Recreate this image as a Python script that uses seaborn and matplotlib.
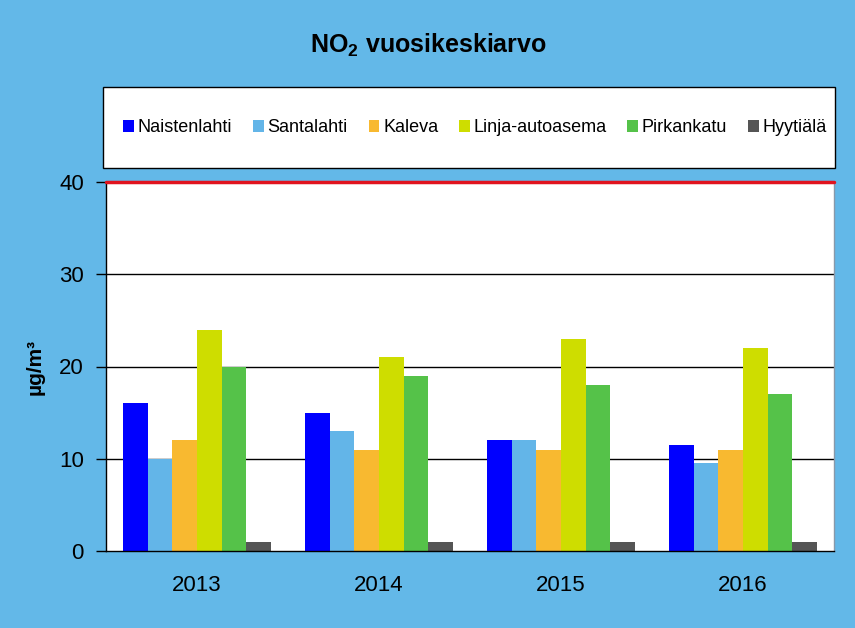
import matplotlib
matplotlib.use("Agg")
import matplotlib.pyplot as plt
import seaborn as sns
import pandas as pd
from matplotlib.patches import Rectangle, Patch

years = ["2013", "2014", "2015", "2016"]
stations = ["Naistenlahti", "Santalahti", "Kaleva", "Linja-autoasema", "Pirkankatu", "Hyytiälä"]
naistenlahti = [16, 15, 12, 11.5]
santalahti = [10, 13, 12, 9.5]
kaleva = [12, 11, 11, 11]
linja = [24, 21, 23, 22]
pirkankatu = [20, 19, 18, 17]
hyytiala = [1, 1, 1, 1]
limit_value = 40
colors = ["#0000FF", "#63B5E8", "#F8B930", "#CEDD00", "#55C249", "#555555"]

series = [naistenlahti, santalahti, kaleva, linja, pirkankatu, hyytiala]
rows = []
for s, vals in zip(stations, series):
    for y, v in zip(years, vals):
        rows.append({"year": y, "station": s, "value": v})
df = pd.DataFrame(rows)

bg = "#63B8E8"
sns.set_theme(style="white")
plt.rcParams['font.family'] = ['Liberation Sans', 'DejaVu Sans']
plt.rcParams['mathtext.fontset'] = 'custom'
plt.rcParams['mathtext.rm'] = 'Liberation Sans'
plt.rcParams['mathtext.bf'] = 'Liberation Sans:bold'
for k in ['text.color', 'xtick.color', 'ytick.color', 'axes.labelcolor']:
    plt.rcParams[k] = 'black'

fig = plt.figure(figsize=(8.55, 6.28), dpi=100, facecolor=bg)
ax = fig.add_axes([106/855, 1-551/628, (834-106)/855, (551-182)/628])
ax.set_facecolor("white")

sns.barplot(data=df, x="year", y="value", hue="station", hue_order=stations,
            order=years, palette=colors, width=0.81, saturation=1, ax=ax,
            legend=False, linewidth=0, errorbar=None)

ax.set_ylim(0, 40)
ax.set_xlim(-0.5, 3.5)
ax.set_yticks([0, 10, 20, 30, 40])
ax.set_yticklabels(["0", "10", "20", "30", "40"], fontsize=16)
for v in [10, 20, 30]:
    ax.axhline(v, color="black", lw=1, zorder=0.5)
ax.axhline(limit_value, color="#E0141E", lw=2.5, zorder=5, clip_on=False)

ax.set_xticks([0, 1, 2, 3])
ax.set_xticklabels(years, fontsize=16)
ax.set_xticks([-0.5, 0.5, 1.5, 2.5, 3.5], minor=True)
ax.tick_params(axis="x", which="major", length=0, pad=17)
ax.tick_params(axis="x", which="minor", length=6, width=1, color="black", direction="out")
ax.tick_params(axis="y", which="major", length=7, width=1, color="black", direction="out", pad=9, left=True)
ax.set_xlabel("")
ax.set_ylabel("µg/m³", fontsize=15, fontweight="bold", labelpad=10)

for side in ["left", "bottom"]:
    ax.spines[side].set_color("black")
    ax.spines[side].set_linewidth(1)
ax.spines["top"].set_visible(False)
ax.spines["right"].set_color("#8899AA")
ax.spines["right"].set_linewidth(1)

fig.text(428/855, 1-45/628, r"NO$_\mathbf{2}$ vuosikeskiarvo", ha="center", va="center",
         fontsize=18, fontweight="bold")

rect = Rectangle((103/855, 1-168/628), (835-103)/855, (168-87)/628, transform=fig.transFigure,
                 facecolor="white", edgecolor="black", lw=1)
fig.patches.append(rect)
handles = [Patch(facecolor=c, edgecolor="none") for c in colors]
fig.legend(handles, stations, loc="center", bbox_to_anchor=(475/855, 1-128/628), ncol=6,
           frameon=False, fontsize=13, handlelength=0.6, handleheight=0.6, handletextpad=0.2,
           columnspacing=1.15)

fig.savefig("out.png", dpi=100, facecolor=bg)
